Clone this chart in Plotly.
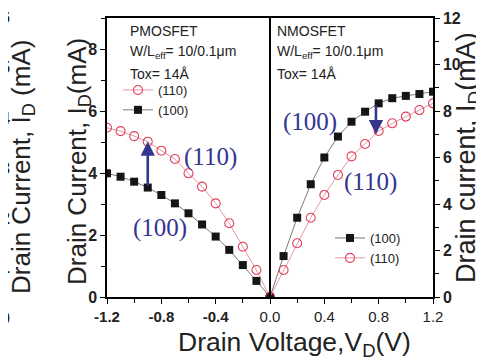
import plotly.graph_objects as go

# ---------------- data ----------------
p_vd = [-1.2, -1.1, -1.0, -0.9, -0.8, -0.7, -0.6, -0.5, -0.4, -0.3, -0.2, -0.1, 0.0]
p_id_100 = [3.99, 3.88, 3.72, 3.53, 3.29, 3.02, 2.70, 2.34, 1.95, 1.52, 1.03, 0.52, 0.0]
p_id_110 = [5.46, 5.35, 5.19, 5.01, 4.72, 4.45, 3.99, 3.56, 3.02, 2.38, 1.62, 0.87, 0.0]

n_vd = [0.0, 0.1, 0.2, 0.3, 0.4, 0.5, 0.6, 0.7, 0.8, 0.9, 1.0, 1.1, 1.2]
n_id_100 = [0.0, 1.76, 3.41, 4.85, 6.0, 6.9, 7.54, 7.97, 8.33, 8.55, 8.65, 8.73, 8.83]
n_id_110 = [0.0, 1.16, 2.31, 3.41, 4.39, 5.25, 6.05, 6.58, 7.14, 7.47, 7.76, 8.04, 8.33]

x_tickvals = [-1.2, -0.8, -0.4, 0.0, 0.4, 0.8, 1.2]
x_ticktext = ["<b>-1.2</b>", "<b>-0.8</b>", "<b>-0.4</b>", "0.0", "0.4", "0.8", "1.2"]
left_ticks = [0, 2, 4, 6, 8]
right_ticks = [0, 2, 4, 6, 8, 10, 12]
cut_ticks = ["6", "5", "4", "3", "2", "1", "0"]

x_title = "Drain Voltage,V<sub>D</sub>(V)"
left_title = "Drain Current, I<sub>D</sub>(mA)"
right_title = "Drain current, I<sub>D</sub>(mA)"
cut_title = "Drain Current, I<sub>D</sub> (mA)"

# ---------------- styles ----------------
SQ = "#151515"
SQ_LINE = "#6a6a6a"
CI = "#e0405a"
CI_LINE = "#e88a98"
BLUE = "#35358f"
TXT = "#222222"
FONT = "Arial, Liberation Sans, sans-serif"
SERIF = "Times New Roman, Liberation Serif, serif"

# the page body has an 8px margin; lay out in screen pixels and convert
OFF = 8
W, H = 484 - OFF, 363 - OFF
PL, PR, PT, PB = 107, 433, 18, 297          # plot box in screen pixels
L, R, T, B = PL - OFF, W - (PR - OFF), PT - OFF, H - (PB - OFF)
PW, PH = PR - PL, PB - PT


def px(x):
    return (x - PL) / PW


def py(y):
    return (PB - y) / PH


fig = go.Figure()

sq_marker = dict(symbol="square", size=8, color=SQ)
ci_marker = dict(symbol="circle-open", size=9, color=CI, line=dict(width=1.1, color=CI))

fig.add_trace(go.Scatter(x=p_vd, y=p_id_110, mode="lines+markers", name="(110)",
                         line=dict(color=CI_LINE, width=0.9), marker=ci_marker,
                         legend="legend", yaxis="y"))
fig.add_trace(go.Scatter(x=p_vd, y=p_id_100, mode="lines+markers", name="(100)",
                         line=dict(color=SQ_LINE, width=0.9), marker=sq_marker,
                         legend="legend", yaxis="y"))
fig.add_trace(go.Scatter(x=n_vd, y=n_id_100, mode="lines+markers", name="(100)",
                         line=dict(color=SQ_LINE, width=0.9), marker=sq_marker,
                         legend="legend2", yaxis="y2"))
fig.add_trace(go.Scatter(x=n_vd, y=n_id_110, mode="lines+markers", name="(110)",
                         line=dict(color=CI_LINE, width=0.9), marker=ci_marker,
                         legend="legend2", yaxis="y2"))

# divider at V=0
fig.add_shape(type="line", xref="x", yref="paper", x0=0, x1=0, y0=0, y1=1,
              line=dict(color="black", width=2))

ann = []
# panel texts
for xx, lines in [(128, ["PMOSFET", "W/L<sub>eff</sub>= 10/0.1\u03bcm", "Tox= 14\u00c5"]),
                  (275, ["NMOSFET", "W/L<sub>eff</sub>= 10/0.1\u03bcm", "Tox= 14\u00c5"])]:
    for yy, t in zip([31, 52, 74], lines):
        ann.append(dict(text=t, xref="paper", yref="paper", x=px(xx), y=py(yy),
                        xanchor="left", yanchor="middle", showarrow=False,
                        font=dict(family=FONT, size=14, color=TXT)))

# orientation labels
for t, xx, yy in [("(110)", 210, 157), ("(100)", 160, 228), ("(100)", 310, 122), ("(110)", 370, 182)]:
    ann.append(dict(text=t, xref="paper", yref="paper", x=px(xx), y=py(yy),
                    xanchor="center", yanchor="middle", showarrow=False,
                    font=dict(family=SERIF, size=25, color=BLUE)))

# arrows
ann.append(dict(x=-0.9, y=5.02, xref="x", yref="y", ax=-0.9, ay=3.55, axref="x", ayref="y",
                text="", showarrow=True, arrowhead=2, arrowsize=1.1, arrowwidth=2.6, arrowcolor=BLUE))
ann.append(dict(x=0.78, y=7.0, xref="x", yref="y2", ax=0.78, ay=8.3, axref="x", ayref="y2",
                text="", showarrow=True, arrowhead=2, arrowsize=1.1, arrowwidth=2.6, arrowcolor=BLUE))

# axis titles (placed as in the reference, which is not centred on the axes)
ann.append(dict(text=x_title, xref="paper", yref="paper", x=px(294), y=py(344),
                xanchor="center", yanchor="middle", showarrow=False,
                font=dict(family=FONT, size=26.5, color=TXT)))
ann.append(dict(text=left_title, xref="paper", yref="paper", x=px(78), y=py(162),
                xanchor="center", yanchor="middle", textangle=-90, showarrow=False,
                font=dict(family=FONT, size=26, color=TXT)))
ann.append(dict(text=right_title, xref="paper", yref="paper", x=px(468), y=py(158),
                xanchor="center", yanchor="middle", textangle=-90, showarrow=False,
                font=dict(family=FONT, size=27, color=TXT)))

# cut-off neighbouring axis on the far left
for t, yy in zip(cut_ticks, [17, 67, 118, 168, 218, 267, 318]):
    ann.append(dict(text="<b>%s</b>" % t, xref="paper", yref="paper", x=px(OFF + 4), y=py(yy),
                    xanchor="right", yanchor="middle", showarrow=False,
                    font=dict(family=FONT, size=16, color=TXT)))
ann.append(dict(text=cut_title, xref="paper", yref="paper",
                x=px(22), y=py(167), xanchor="center", yanchor="middle", textangle=-90,
                showarrow=False, font=dict(family=FONT, size=26, color=TXT)))

axis_common = dict(showline=True, linecolor="black", linewidth=1.5, showgrid=False,
                   zeroline=False, ticks="outside", tickcolor="black", ticklen=5, tickwidth=1.2,
                   automargin=False)

fig.update_layout(
    width=W, height=H,
    margin=dict(l=L, r=R, t=T, b=B, pad=0, autoexpand=False),
    paper_bgcolor="white", plot_bgcolor="white",
    font=dict(family=FONT, color=TXT),
    xaxis=dict(range=[-1.2, 1.2], tickvals=x_tickvals, ticktext=x_ticktext, mirror=True,
               tickfont=dict(size=15, color=TXT),
               minor=dict(dtick=0.2, tick0=0, ticks="outside", ticklen=4, tickcolor="black"),
               **axis_common),
    yaxis=dict(range=[0, 9], tickvals=left_ticks, ticktext=["<b>%d</b>" % v for v in left_ticks],
               tickfont=dict(size=16, color=TXT),
               minor=dict(dtick=1, ticks="outside", ticklen=4, tickcolor="black"),
               **axis_common),
    yaxis2=dict(range=[0, 12], tickvals=right_ticks, ticktext=["<b>%d</b>" % v for v in right_ticks],
                overlaying="y", side="right", anchor="x",
                tickfont=dict(size=16, color=TXT),
                minor=dict(dtick=1, ticks="outside", ticklen=4, tickcolor="black"),
                **axis_common),
    legend=dict(x=px(118), y=py(75), xanchor="left", yanchor="top", bgcolor="rgba(0,0,0,0)",
                font=dict(size=13, color=TXT), itemwidth=30, tracegroupgap=0),
    legend2=dict(x=px(330), y=py(223), xanchor="left", yanchor="top", bgcolor="rgba(0,0,0,0)",
                 font=dict(size=13, color=TXT), itemwidth=30, tracegroupgap=0),
    annotations=ann,
    showlegend=True,
)

fig.write_html("out.html")
